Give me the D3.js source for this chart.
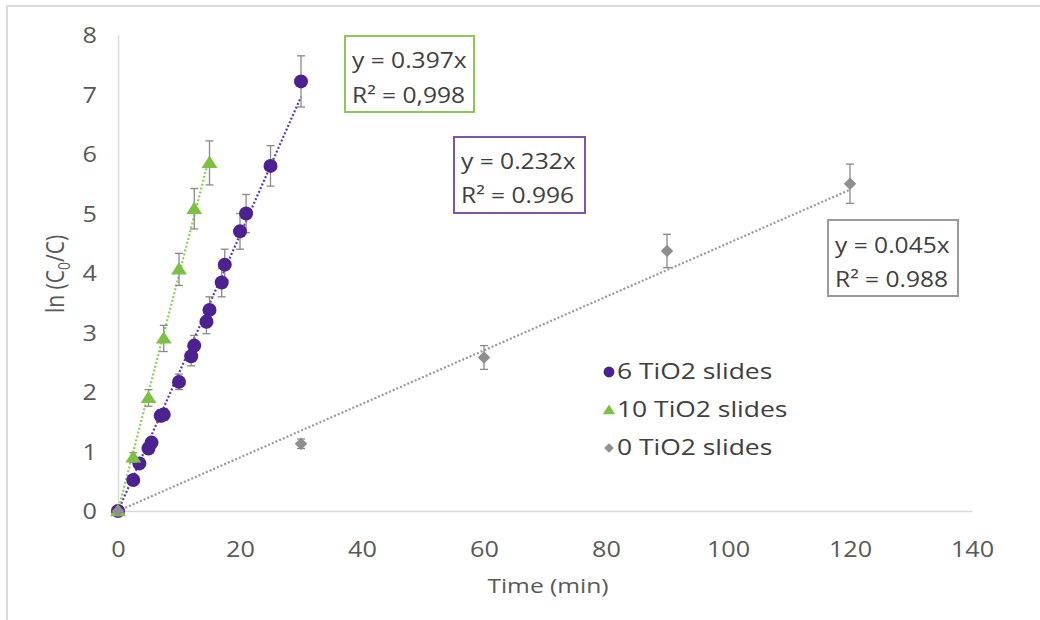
<!DOCTYPE html>
<html>
<head>
<meta charset="utf-8">
<script src="https://cdn.jsdelivr.net/npm/d3@7"></script>
<style>
  html, body { margin: 0; padding: 0; background: #fff; }
  svg { display: block; }
  text { font-family: "Open Sans", "Noto Sans", sans-serif; }
</style>
</head>
<body>
<svg id="chart" width="1040" height="620"></svg>
<script>
// Photocatalytic degradation kinetics: ln(C0/C) against irradiation time
const xTicks = [0, 20, 40, 60, 80, 100, 120, 140];
const yTicks = [0, 1, 2, 3, 4, 5, 6, 7, 8];

const seriesNames = ["6 TiO2 slides", "10 TiO2 slides", "0 TiO2 slides"];

// 6 TiO2 slides
const timeSix = [0, 2.5, 3.5, 5, 5.5, 7, 7.5, 10, 12, 12.5, 14.5, 15, 17, 17.5, 20, 21, 25, 30];
const lnSix   = [0, 0.52, 0.80, 1.05, 1.15, 1.60, 1.62, 2.17, 2.60, 2.78, 3.18, 3.38, 3.84, 4.14, 4.70, 5.00, 5.80, 7.22];
const errSix  = [0, 0.05, 0.06, 0.07, 0.08, 0.10, 0.10, 0.13, 0.16, 0.17, 0.20, 0.22, 0.24, 0.26, 0.30, 0.32, 0.34, 0.43];

// 10 TiO2 slides
const timeTen = [0, 2.5, 5, 7.5, 10, 12.5, 15];
const lnTen   = [0, 0.90, 1.90, 2.90, 4.06, 5.08, 5.85];
const errTen  = [0, 0.08, 0.14, 0.22, 0.27, 0.34, 0.37];

// 0 TiO2 slides
const timeZero = [0, 30, 60, 90, 120];
const lnZero   = [0, 1.13, 2.58, 4.37, 5.50];
const errZero  = [0, 0.08, 0.20, 0.28, 0.33];

// Linear fits through the origin
const slopes   = [0.232, 0.397, 0.045];
const fitEnds  = [30, 15, 120];
const fitLabels = [["y = 0.232x", "R² = 0.996"], ["y = 0.397x", "R² = 0,998"], ["y = 0.045x", "R² = 0.988"]];

const colors     = ["#4b2290", "#7dc143", "#8f8f8f"];
const lineColors = ["#5a3aa6", "#8fcc55", "#9a9a9a"];
const boxColors  = ["#7b55b5", "#8cc853", "#9a9a9a"];
const textColor = "#404040";
const SX = 1.2; // horizontal stretch of lettering

const svg = d3.select("#chart");

// outer frame
svg.append("rect").attr("x", 7).attr("y", 6).attr("width", 1060).attr("height", 640)
  .attr("fill", "none").attr("stroke", "#dcdcdc").attr("stroke-width", 2);

const x = d3.scaleLinear().domain([0, 140]).range([118, 972]);
const y = d3.scaleLinear().domain([0, 8]).range([511, 35]);

// axes
const gx = svg.append("g").attr("transform", `translate(0,${y(0)})`)
  .call(d3.axisBottom(x).tickValues(xTicks).tickSize(0).tickSizeOuter(0).tickFormat(d3.format("d")));
gx.select(".domain").attr("stroke", "#d9d9d9").attr("stroke-width", 1.5);
gx.selectAll("text").attr("y", 46).attr("dy", 0).attr("fill", "#595959")
  .style("font-size", "21px").attr("transform", `scale(${SX},1)`);

const gy = svg.append("g").attr("transform", `translate(${x(0)},0)`)
  .call(d3.axisLeft(y).tickValues(yTicks).tickSize(0).tickSizeOuter(0).tickFormat(d3.format("d")));
gy.select(".domain").attr("stroke", "#d9d9d9").attr("stroke-width", 1.5);
gy.selectAll("text").attr("x", -21 / SX).attr("dy", "0.36em").attr("fill", "#595959")
  .style("font-size", "21px").attr("transform", `scale(${SX},1)`);

// axis titles
svg.append("text").attr("transform", `translate(548,593) scale(${SX},1)`)
  .attr("text-anchor", "middle").attr("fill", "#595959").style("font-size", "20.5px")
  .text("Time (min)");

const yTitle = svg.append("text").attr("transform", `translate(64,274) scale(${SX},1) rotate(-90)`)
  .attr("text-anchor", "middle").attr("fill", "#595959").style("font-size", "21px");
yTitle.append("tspan").text("ln (C");
yTitle.append("tspan").attr("dy", 5).style("font-size", "14px").text("0");
yTitle.append("tspan").attr("dy", -5).text("/C)");

const series = [
  { xs: timeSix, ys: lnSix, es: errSix },
  { xs: timeTen, ys: lnTen, es: errTen },
  { xs: timeZero, ys: lnZero, es: errZero }
];

// trendlines
series.forEach((s, i) => {
  svg.append("line")
    .attr("x1", x(0)).attr("y1", y(0))
    .attr("x2", x(fitEnds[i])).attr("y2", y(slopes[i] * fitEnds[i]))
    .attr("stroke", lineColors[i]).attr("stroke-width", 2.2)
    .attr("stroke-dasharray", "2,2");
});

const triangle = d3.symbol().type(d3.symbolTriangle);
const square = d3.symbol().type(d3.symbolSquare);

function drawMarker(g, i, cx, cy, scale) {
  if (i === 0) {
    g.append("circle").attr("cx", cx).attr("cy", cy).attr("r", 7 * scale).attr("fill", colors[0]);
  } else if (i === 1) {
    g.append("path").attr("d", triangle.size(90 * scale * scale)())
      .attr("transform", `translate(${cx},${cy + 1}) scale(1.1,1)`).attr("fill", colors[1]);
  } else {
    g.append("path").attr("d", square.size(78 * scale * scale)())
      .attr("transform", `translate(${cx},${cy}) rotate(45)`).attr("fill", colors[2]);
  }
}

// error bars and markers
series.forEach((s, i) => {
  const g = svg.append("g");
  const pts = s.xs.map((t, k) => ({ t, v: s.ys[k], e: s.es[k] }));
  pts.filter(p => p.e > 0).forEach(p => {
    const cx = x(p.t), top = y(p.v + p.e), bot = y(p.v - p.e);
    g.append("line").attr("x1", cx).attr("x2", cx).attr("y1", top).attr("y2", bot)
      .attr("stroke", "#8a8a8a").attr("stroke-width", 1.3);
    [top, bot].forEach(yy => g.append("line").attr("x1", cx - 4).attr("x2", cx + 4)
      .attr("y1", yy).attr("y2", yy).attr("stroke", "#8a8a8a").attr("stroke-width", 1.3));
  });
  pts.forEach(p => drawMarker(g, i, x(p.t), y(p.v), 1));
});

// equation boxes
const boxes = [
  { x: 454, y: 137, w: 131, h: 76, b1: 169, b2: 203 },
  { x: 345, y: 36, w: 129, h: 76, b1: 68, b2: 103 },
  { x: 828, y: 220, w: 130, h: 76, b1: 253, b2: 287 }
];
boxes.forEach((b, i) => {
  svg.append("rect").attr("x", b.x).attr("y", b.y).attr("width", b.w).attr("height", b.h)
    .attr("fill", "#fff").attr("stroke", boxColors[i]).attr("stroke-width", 2);
  [b.b1, b.b2].forEach((bl, k) => {
    svg.append("text").attr("transform", `translate(${b.x + 7},${bl}) scale(1.17,1)`)
      .attr("fill", textColor).style("font-size", "21px").text(fitLabels[i][k]);
  });
});

// legend
const legendRows = [372, 410, 448];
seriesNames.forEach((name, i) => {
  const g = svg.append("g");
  drawMarker(g, i, 609, legendRows[i], 0.78);
  g.append("text").attr("transform", `translate(617,${legendRows[i] + 7}) scale(1.23,1)`)
    .attr("fill", textColor).style("font-size", "21.5px").text(name);
});
</script>
</body>
</html>
